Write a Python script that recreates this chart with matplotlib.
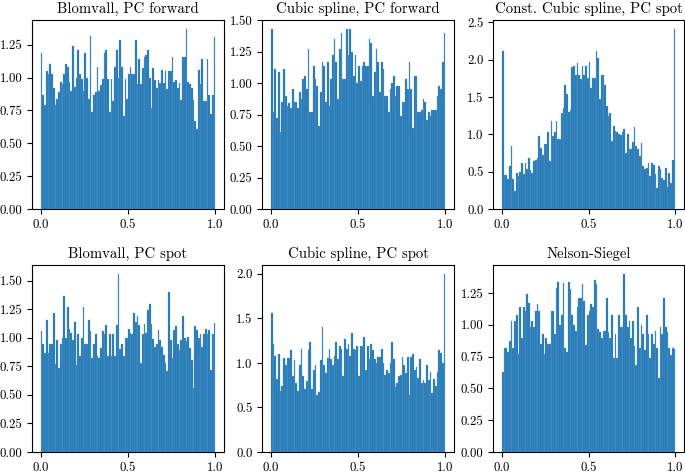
import numpy as np
import matplotlib
matplotlib.use("Agg")
import matplotlib.pyplot as plt
from matplotlib.ticker import MultipleLocator, FormatStrFormatter

plt.rcParams['font.family'] = ['cmr10', 'DejaVu Serif']
plt.rcParams['axes.formatter.use_mathtext'] = True
plt.rcParams['font.size'] = 9

titles = ["Blomvall, PC forward", "Cubic spline, PC forward", "Const. Cubic spline, PC spot",
          "Blomvall, PC spot", "Cubic spline, PC spot", "Nelson-Siegel"]

blomvall_fwd = [1.19,0.87,0.79,1.05,1.03,1.10,1.03,0.92,0.79,0.84,
                0.89,0.97,0.95,1.03,1.10,1.08,0.97,0.90,1.24,0.93,
                1.00,1.21,1.03,0.99,0.90,1.19,1.00,0.84,1.32,0.74,
                0.87,0.89,1.08,0.90,0.94,0.99,1.19,1.21,0.99,0.74,
                0.99,0.82,1.08,1.21,1.00,1.29,1.08,0.71,0.99,0.84,
                1.03,1.08,1.03,1.03,1.29,0.95,1.14,0.95,1.07,1.16,
                1.17,1.21,1.00,0.77,1.07,0.98,0.92,0.98,0.96,1.06,
                0.96,1.05,0.91,1.05,1.05,1.16,0.97,0.98,0.92,0.96,
                0.83,1.16,1.16,1.37,0.97,0.95,0.92,0.83,0.67,0.61,
                1.06,0.95,1.14,0.82,0.82,1.14,0.87,0.72,0.87,1.31]

cubic_fwd = [1.43,0.77,1.11,0.72,1.09,0.61,0.85,1.11,0.90,0.82,
             0.84,0.80,0.95,0.85,0.85,0.80,0.93,0.87,1.03,1.06,
             0.95,1.27,0.77,0.77,1.14,1.03,0.98,0.66,0.93,1.17,
             1.14,0.85,1.17,0.82,1.03,1.22,1.35,1.17,0.87,1.27,
             1.40,1.03,1.03,1.43,1.22,1.43,1.25,1.06,1.22,1.00,
             1.14,1.02,1.14,1.17,1.14,1.14,1.35,1.32,0.90,1.09,
             1.27,1.17,0.93,1.17,1.11,0.90,0.90,0.77,0.95,1.00,
             1.06,0.90,0.98,0.98,0.74,0.85,0.85,1.03,0.95,1.17,
             0.95,0.64,1.06,1.06,0.77,0.77,0.79,0.87,0.85,0.71,
             0.77,0.74,0.79,0.79,0.79,0.90,0.98,0.95,1.17,1.40]

const_cubic_spot = [2.11,0.46,0.46,0.40,0.58,0.85,0.40,0.24,0.48,0.44,
                    0.50,0.61,0.47,0.61,0.54,0.68,0.52,0.48,0.64,0.66,
                    0.68,0.98,0.82,0.72,0.87,0.87,1.03,0.64,1.18,0.98,
                    1.03,1.18,0.94,0.94,1.29,1.35,1.66,1.54,1.30,1.32,
                    1.90,1.92,1.80,1.95,1.80,1.74,1.92,1.79,1.92,1.75,
                    1.97,1.62,1.75,1.75,2.11,2.02,1.47,1.80,1.80,1.66,
                    1.38,1.25,1.29,0.91,1.11,1.05,1.03,1.01,0.99,1.03,
                    1.07,0.75,1.01,0.80,0.80,0.90,1.10,0.84,0.80,0.71,
                    0.88,0.57,0.53,0.55,0.62,0.44,0.61,0.59,0.47,0.28,
                    0.57,0.53,0.41,0.39,0.55,0.30,0.48,0.35,0.66,2.41]

blomvall_spot = [1.06,0.95,0.87,1.16,0.87,0.95,0.95,1.22,0.77,0.98,
                 0.74,0.95,1.00,1.37,1.00,1.27,1.08,1.04,0.98,1.14,
                 0.76,1.03,0.84,1.00,1.27,0.95,0.95,1.16,1.06,0.82,
                 0.95,1.03,0.84,0.82,0.91,1.06,1.03,1.11,0.84,1.03,
                 0.84,1.03,0.84,1.11,1.56,0.90,0.95,0.84,1.00,1.00,
                 1.08,1.04,1.03,1.22,1.14,1.19,1.11,0.78,1.03,1.12,
                 1.04,1.24,1.30,1.12,0.99,0.92,0.95,1.07,0.98,0.92,
                 0.85,0.78,0.71,1.40,0.98,0.82,1.07,1.10,0.95,0.89,
                 0.98,1.19,1.00,0.97,1.01,0.91,0.81,0.56,1.10,1.07,
                 1.00,1.03,0.92,1.03,1.08,1.03,1.07,0.72,1.03,1.13]

cubic_spot = [1.56,1.21,1.08,0.82,1.10,0.69,0.74,1.05,0.98,1.05,
              1.05,1.14,0.85,1.03,0.77,0.69,0.98,1.16,0.85,0.71,
              0.80,1.14,1.24,0.71,0.92,0.98,0.64,0.67,1.03,1.40,
              0.98,0.89,1.05,1.16,1.05,0.98,1.08,1.24,1.05,1.19,
              1.16,0.85,1.27,1.16,1.21,1.08,1.34,1.16,1.14,1.19,
              0.85,1.19,1.19,1.29,0.92,1.19,1.05,1.21,1.14,1.04,
              1.00,1.07,1.07,1.16,1.00,0.87,0.92,0.89,1.00,1.23,
              1.05,0.73,0.77,0.85,0.87,1.07,0.98,0.89,1.07,0.64,
              1.07,1.10,0.92,0.95,0.83,1.05,0.77,0.81,0.77,0.98,
              0.81,0.90,0.66,0.82,0.74,0.90,1.14,1.11,1.00,2.00]

nelson_siegel = [0.63,0.82,0.82,0.79,0.87,1.03,0.82,1.03,1.08,0.77,
                 1.14,0.90,1.14,1.11,1.24,1.17,0.98,1.03,0.98,1.11,
                 1.16,1.11,0.85,0.93,0.77,0.90,0.85,0.85,1.11,1.11,
                 0.93,1.29,1.34,1.00,1.08,1.33,0.82,0.79,1.34,1.28,
                 1.08,1.00,0.95,1.14,1.21,1.21,1.32,1.19,0.84,1.08,
                 1.11,1.16,1.14,1.35,1.32,0.97,0.94,0.90,0.95,0.95,
                 1.21,0.94,0.90,1.08,0.74,0.93,0.74,1.08,0.98,0.98,
                 1.40,1.08,0.98,1.03,0.90,1.03,0.83,0.68,1.14,0.82,
                 1.00,0.93,0.80,1.08,0.93,0.74,0.93,0.85,0.95,0.82,
                 0.58,0.98,0.93,1.21,0.98,0.94,0.82,0.76,0.82,0.81]

series = [blomvall_fwd, cubic_fwd, const_cubic_spot, blomvall_spot, cubic_spot, nelson_siegel]
y_steps = [0.25, 0.25, 0.5, 0.25, 0.5, 0.25]
y_formats = ["%.2f", "%.2f", "%.1f", "%.2f", "%.1f", "%.2f"]

W, H = 685, 474
fig = plt.figure(figsize=(W / 100, H / 100), dpi=100)

lefts = [32, 262.3, 493.3]
widths = [192, 191.7, 190.7]
tops = [20, 265]
bottoms = [209, 452]

for i, (title, vals) in enumerate(zip(titles, series)):
    r, c = divmod(i, 3)
    ax = fig.add_axes([lefts[c] / W, 1 - bottoms[r] / H,
                       widths[c] / W, (bottoms[r] - tops[r]) / H])
    vals = np.asarray(vals)
    edges = np.linspace(0, 1, len(vals) + 1)
    centers = 0.5 * (edges[:-1] + edges[1:])
    ax.hist(centers, bins=edges, weights=vals, color='#1f77b4',
            edgecolor='#6fa6d2', linewidth=0.2)
    ax.set_title(title, fontsize=10.6, pad=5)
    ax.set_xticks([0.0, 0.5, 1.0])
    ax.xaxis.set_major_formatter(FormatStrFormatter("%.1f"))
    ax.yaxis.set_major_locator(MultipleLocator(y_steps[i]))
    ax.yaxis.set_major_formatter(FormatStrFormatter(y_formats[i]))
    ax.tick_params(labelsize=9.3)

fig.savefig("out.png", dpi=100)
